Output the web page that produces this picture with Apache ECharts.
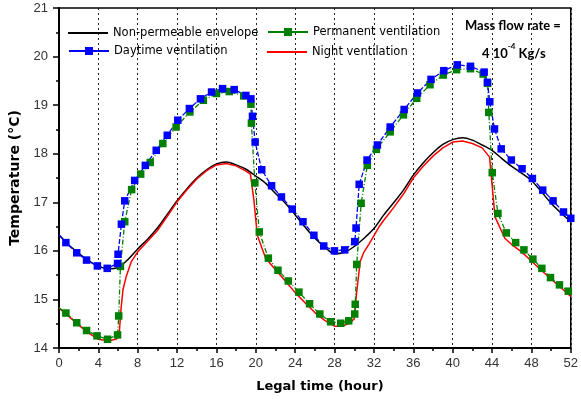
<!DOCTYPE html>
<html>
<head>
<meta charset="utf-8">
<script src="https://cdn.jsdelivr.net/npm/echarts@6/dist/echarts.min.js"></script>
<style>
  html, body { margin: 0; padding: 0; background: #fff; }
  #chart { width: 581px; height: 401px; }
</style>
</head>
<body>
<div id="chart"></div>
<script>
// values: [hour, temperature °C]
var nonPermeable = [
  [0,16.33],[1,16.12],[2,15.95],[3,15.80],[4,15.68],[5,15.63],[6,15.66],[7,15.82],[8,16.04],
  [9,16.24],[10,16.47],[11,16.75],[12,17.03],[13,17.28],[14,17.50],[15,17.67],[16,17.79],
  [17,17.83],[18,17.77],[19,17.68],[20,17.54],[21,17.39],[22,17.18],[23,16.98],[24,16.74],
  [25,16.49],[26,16.26],[27,16.08],[28,15.94],[29,15.97],[30,16.09],[31,16.26],[32,16.46],
  [33,16.74],[34,16.99],[35,17.25],[36,17.56],[37,17.81],[38,18.02],[39,18.19],[40,18.29],
  [41,18.33],[42,18.28],[43,18.18],[44,18.07],[45,17.90],[46,17.74],[47,17.60],[48,17.45],
  [49,17.22],[50,16.98],[51,16.78],[52,16.60]
];
var nightVent = [
  [0,14.82],[1,14.65],[2,14.47],[3,14.31],[4,14.18],[5,14.15],[5.8,14.18],[6.1,14.25],
  [6.3,14.8],[6.5,15.2],[6.8,15.45],[7.35,15.78],[8,15.98],[9,16.2],[10,16.42],[11,16.71],
  [12,17.01],[13,17.26],[14,17.48],[15,17.65],[16,17.77],[17,17.80],[18,17.75],[19,17.64],
  [19.45,17.58],[19.8,17.05],[20.15,16.32],[21,15.85],[22,15.61],[23,15.38],[24,15.14],
  [25,14.93],[26,14.73],[27,14.57],[28,14.45],[28.8,14.45],[29.5,14.51],[30,14.6],
  [30.2,15.06],[30.6,15.78],[31,15.98],[31.5,16.14],[32.5,16.49],[33,16.63],[34,16.89],
  [35,17.17],[36,17.50],[37,17.74],[38,17.95],[39,18.12],[40,18.24],[41,18.26],[42,18.21],
  [43,18.12],[43.75,17.93],[44.3,16.70],[45.3,16.26],[46,16.13],[47,15.98],[48,15.79],
  [49,15.60],[50,15.42],[51,15.24],[52,15.06]
];
var permanentVent = [
  [0,14.83],[0.7,14.72],[1.8,14.52],[2.8,14.36],[3.87,14.25],[4.93,14.18],[5.95,14.27],
  [6.07,14.66],[6.24,15.68],[6.68,16.60],[7.38,17.26],[8.3,17.58],[9.27,17.82],[10.55,18.21],
  [11.9,18.55],[13.3,18.86],[14.67,19.10],[16.0,19.24],[17.3,19.28],[18.77,19.19],[19.5,19.02],
  [19.55,18.63],[19.9,17.40],[20.35,16.39],[21.27,15.85],[22.25,15.60],[23.3,15.38],
  [24.38,15.15],[25.46,14.91],[26.5,14.70],[27.6,14.54],[28.63,14.51],[29.44,14.56],
  [30.05,14.70],[30.1,14.90],[30.25,15.72],[30.7,16.98],[31.33,17.76],[32.25,18.09],
  [33.65,18.45],[35.0,18.80],[36.35,19.14],[37.7,19.42],[39.05,19.62],[40.4,19.73],
  [41.81,19.75],[43.1,19.64],[43.55,19.45],[43.67,18.85],[44.02,17.61],[44.6,16.77],
  [45.45,16.37],[46.4,16.17],[47.24,16.02],[48.15,15.83],[49.06,15.64],[49.94,15.45],
  [50.85,15.30],[51.75,15.17]
];
var daytimeVent = [
  [0,16.33],[0.7,16.17],[1.8,15.96],[2.8,15.81],[3.9,15.69],[4.9,15.64],[5.95,15.74],
  [6.0,15.93],[6.34,16.55],[6.68,17.03],[7.69,17.45],[8.77,17.76],[9.88,18.07],[11.0,18.38],
  [12.07,18.69],[13.25,18.93],[14.37,19.13],[15.5,19.27],[16.62,19.34],[17.8,19.32],
  [18.99,19.20],[19.5,19.13],[19.66,18.77],[19.93,18.24],[20.6,17.67],[21.6,17.34],
  [22.6,17.11],[23.7,16.86],[24.79,16.60],[25.9,16.32],[26.9,16.10],[27.99,16.00],
  [29.03,16.02],[30.05,16.19],[30.18,16.47],[30.5,17.37],[31.3,17.87],[32.35,18.18],
  [33.65,18.55],[35.07,18.91],[36.42,19.25],[37.8,19.53],[39.1,19.71],[40.47,19.83],
  [41.81,19.80],[43.2,19.68],[43.53,19.47],[43.77,19.07],[44.25,18.51],[44.93,18.10],
  [45.96,17.87],[47.05,17.69],[48.1,17.49],[49.15,17.25],[50.2,17.03],[51.26,16.80],[52,16.67]
];

var names = ['Non-permeable envelope', 'Permanent ventilation', 'Daytime ventilation', 'Night ventilation'];

// the curve starts at the axis without a marker
function noFirstMarker(arr) {
  return arr.map(function (p, i) {
    return i === 0 ? { value: p, symbol: 'none' } : p;
  });
}

var legendFont = { fontFamily: 'DejaVu Sans', fontSize: 11.5, color: '#000' };
// plain line legends get a thin bar icon, marker legends keep line + square
function legendAt(name, left, top, plain) {
  var leg = {
    data: [name], left: left, top: top, padding: 0,
    itemWidth: 40, itemHeight: 10, selectedMode: false,
    textStyle: legendFont,
    lineStyle: { type: 'solid' }
  };
  if (plain) {
    leg.data = [{ name: name, icon: 'rect' }];
    leg.itemHeight = 2;
    leg.top = top + 1;
  }
  return leg;
}

var chart = echarts.init(document.getElementById('chart'));
chart.setOption({
  animation: false,
  legend: [
    legendAt(names[0], 68, 26, true),
    legendAt(names[1], 267, 26, false),
    legendAt(names[2], 68, 45, false),
    legendAt(names[3], 267, 45, true)
  ],
  grid: {
    left: 58, right: 8, top: 8, bottom: 53,
    show: true, borderColor: '#000', borderWidth: 1.5
  },
  graphic: [
    {
      type: 'text', left: 465, top: 19,
      style: { text: 'Mass flow rate =', font: 'bold 13px Lato', fill: '#000' }
    },
    {
      type: 'text', left: 482, top: 42,
      style: {
        text: '{n|4 10}{s|-4}{n| Kg/s}',
        rich: {
          n: { font: 'bold 13px Lato', fill: '#000', lineHeight: 18, verticalAlign: 'bottom' },
          s: { font: 'bold 8px Lato', fill: '#000', lineHeight: 18, verticalAlign: 'top' }
        }
      }
    }
  ],
  xAxis: {
    type: 'value', min: 0, max: 52, interval: 4,
    name: 'Legal time (hour)', nameLocation: 'middle', nameGap: 32,
    nameTextStyle: { fontFamily: 'DejaVu Sans', fontWeight: 'bold', fontSize: 13, color: '#000', padding: [0, 0, 0, 10] },
    axisLine: { lineStyle: { color: '#000', width: 2 } },
    axisTick: { length: 5, lineStyle: { color: '#000', width: 1.5 } },
    minorTick: { show: true, splitNumber: 2, length: 3, lineStyle: { color: '#000', width: 1.5 } },
    axisLabel: { margin: 9, fontFamily: 'Liberation Sans', fontSize: 13, color: '#333' },
    splitLine: { show: true, lineStyle: { color: '#222', type: [2, 3], width: 1 } }
  },
  yAxis: {
    type: 'value', min: 14, max: 21, interval: 1,
    name: 'Temperature (°C)', nameLocation: 'middle', nameGap: 37,
    nameTextStyle: { fontFamily: 'DejaVu Sans', fontWeight: 'bold', fontSize: 14, color: '#000' },
    axisLine: { show: true, lineStyle: { color: '#000', width: 2 } },
    axisTick: { show: true, length: 6, lineStyle: { color: '#000', width: 1.5 } },
    minorTick: { show: true, splitNumber: 2, length: 3, lineStyle: { color: '#000', width: 1.5 } },
    axisLabel: { margin: 11, fontFamily: 'Liberation Sans', fontSize: 13, color: '#333' },
    splitLine: { show: false }
  },
  series: [
    {
      name: names[0], type: 'line', data: nonPermeable, symbol: 'none', smooth: 0.3,
      lineStyle: { color: '#000', width: 1.5 }, itemStyle: { color: '#000' }
    },
    {
      name: names[3], type: 'line', data: nightVent, symbol: 'none',
      lineStyle: { color: '#ff0000', width: 1.5 }, itemStyle: { color: '#ff0000' }
    },
    {
      name: names[1], type: 'line', data: noFirstMarker(permanentVent),
      symbol: 'rect', symbolSize: 7.5,
      lineStyle: { color: '#008000', width: 1.3, type: [5, 2, 1, 2] }, itemStyle: { color: '#008000' }
    },
    {
      name: names[2], type: 'line', data: noFirstMarker(daytimeVent),
      symbol: 'rect', symbolSize: 7.5,
      lineStyle: { color: '#0000ff', width: 1.3, type: [5, 2] }, itemStyle: { color: '#0000ff' }
    }
  ]
});
</script>
</body>
</html>
